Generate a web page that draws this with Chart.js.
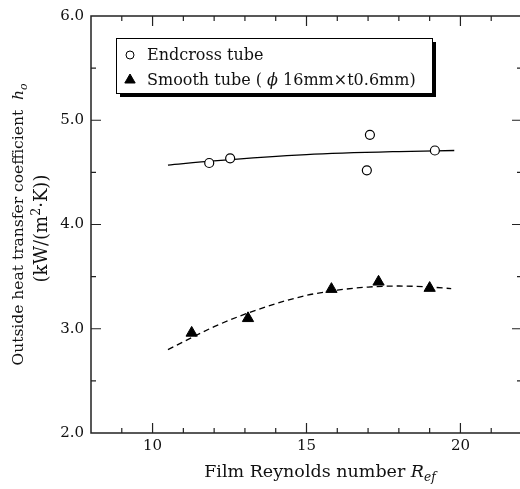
<!DOCTYPE html>
<html>
<head>
<meta charset="utf-8">
<script src="https://cdn.jsdelivr.net/npm/chart.js@4"></script>
<style>
  html, body { margin: 0; padding: 0; background: #fff; overflow: hidden; }
  #wrap { width: 524px; height: 489px; }
</style>
</head>
<body>
<div id="wrap"><canvas id="myChart" width="524" height="489"></canvas></div>
<script>
// measured points
const endX = [11.84, 12.52, 17.06, 16.96, 19.17];
const endY = [4.59, 4.635, 4.86, 4.52, 4.71];
const smoothX = [11.27, 13.1, 15.81, 17.34, 19.0];
const smoothY = [2.96, 3.10, 3.38, 3.45, 3.39];

// fitted curves
const endFitX = [10.5, 12, 15, 18, 19.8];
const endFitY = [4.57, 4.61, 4.67, 4.70, 4.71];
const smoothFitX = [10.5, 12, 13, 14, 15, 16, 17, 18, 19, 19.7];
const smoothFitY = [2.80, 3.02, 3.14, 3.24, 3.32, 3.37, 3.40, 3.41, 3.40, 3.385];

const xTicks = [10, 15, 20];
const yTicks = [2, 3, 4, 5, 6];

const FONT = "'DejaVu Serif', serif";
const toPts = (xs, ys) => xs.map((x, i) => ({ x: x, y: ys[i] }));

// draws text pieces: [text, italic, offset('sub'|'sup'|null)]
function drawPieces(ctx, pieces, size, x, y, align) {
  const widths = pieces.map(p => {
    const s = p[2] ? size * 0.7 : size;
    ctx.font = (p[1] ? 'italic ' : '') + s + 'px ' + FONT;
    return ctx.measureText(p[0]).width;
  });
  const total = widths.reduce((a, b) => a + b, 0);
  let cx = align === 'center' ? x - total / 2 : x;
  ctx.textBaseline = 'alphabetic';
  ctx.textAlign = 'left';
  pieces.forEach((p, i) => {
    const s = p[2] ? size * 0.7 : size;
    ctx.font = (p[1] ? 'italic ' : '') + s + 'px ' + FONT;
    let dy = 0;
    if (p[2] === 'sub') dy = size * 0.25;
    if (p[2] === 'sup') dy = -size * 0.4;
    ctx.fillText(p[0], cx, y + dy);
    cx += widths[i];
  });
}

// pin the plot's right edge (the right frame sits just off the picture)
const areaPlugin = {
  id: 'area',
  afterLayout(chart) {
    const s = chart.scales.x;
    s.right = 522;
    s.width = s.right - s.left;
    s.configure();
    chart.chartArea.right = 522;
    chart.chartArea.width = 522 - chart.chartArea.left;
  }
};

const framePlugin = {
  id: 'frame',
  afterDraw(chart) {
    const ctx = chart.ctx;
    const a = chart.chartArea;
    const xs = chart.scales.x, ys = chart.scales.y;
    ctx.save();
    ctx.strokeStyle = '#222';
    ctx.lineWidth = 1.5;
    ctx.strokeRect(a.left, a.top, a.right - a.left, a.bottom - a.top);

    ctx.lineWidth = 1.2;
    ctx.beginPath();
    for (let v = 9; v <= 21; v++) {
      const px = xs.getPixelForValue(v);
      const len = v % 5 === 0 ? 10 : 5;
      ctx.moveTo(px, a.bottom); ctx.lineTo(px, a.bottom - len);
      ctx.moveTo(px, a.top); ctx.lineTo(px, a.top + len);
    }
    for (let v = 2.5; v < 6; v += 0.5) {
      const py = ys.getPixelForValue(v);
      const len = Number.isInteger(v) ? 10 : 5;
      ctx.moveTo(a.left, py); ctx.lineTo(a.left + len, py);
      ctx.moveTo(a.right, py); ctx.lineTo(a.right - len, py);
    }
    ctx.stroke();

    // axis titles
    ctx.fillStyle = '#111';
    drawPieces(ctx, [['Film Reynolds number ', false], ['R', true], ['ef', true, 'sub']], 17.5, 320, 477, 'center');
    const cy = (a.top + a.bottom) / 2;
    ctx.translate(0, cy);
    ctx.rotate(-Math.PI / 2);
    drawPieces(ctx, [['Outside heat transfer coefficient  ', false], ['h', true], ['o', true, 'sub']], 15.5, 0, 23, 'center');
    drawPieces(ctx, [['(kW/(m', false], ['2', false, 'sup'], ['·K))', false]], 18, -4, 47, 'center');
    ctx.setTransform(1, 0, 0, 1, 0, 0);

    // legend box with shadow
    const bx = 116, by = 38, bw = 316, bh = 55;
    ctx.fillStyle = '#000';
    ctx.fillRect(bx + 4, by + 4, bw, bh);
    ctx.fillStyle = '#fff';
    ctx.fillRect(bx, by, bw, bh);
    ctx.strokeStyle = '#000';
    ctx.lineWidth = 1;
    ctx.strokeRect(bx + 0.5, by + 0.5, bw, bh);

    const ds = chart.data.datasets;
    Chart.helpers.drawPoint(ctx, { pointStyle: 'circle', radius: 4, borderWidth: 1.2 }, 130, 55);
    ctx.fillStyle = '#000';
    Chart.helpers.drawPoint(ctx, { pointStyle: 'triangle', radius: 6, borderWidth: 1 }, 130, 80);
    ctx.fillStyle = '#111';
    drawPieces(ctx, [[ds[0].label, false]], 16, 147, 60, 'left');
    drawPieces(ctx, [['Smooth tube ( ', false], ['ϕ', true], [' 16mm×t0.6mm)', false]], 16, 147, 85, 'left');
    ctx.restore();
  }
};

const ctx = document.getElementById('myChart');
const myChart = new Chart(ctx, {
  type: 'scatter',
  data: {
    datasets: [
      {
        label: 'Endcross tube',
        data: toPts(endX, endY),
        pointStyle: 'circle',
        pointRadius: 4.5,
        backgroundColor: '#fff',
        borderColor: '#000',
        borderWidth: 1.2
      },
      {
        label: 'Smooth tube',
        data: toPts(smoothX, smoothY),
        pointStyle: 'triangle',
        pointRadius: 6.5,
        backgroundColor: '#000',
        borderColor: '#000',
        borderWidth: 1
      },
      {
        label: 'Endcross fit',
        data: toPts(endFitX, endFitY),
        showLine: true,
        pointRadius: 0,
        borderColor: '#000',
        borderWidth: 1.3,
        cubicInterpolationMode: 'monotone'
      },
      {
        label: 'Smooth fit',
        data: toPts(smoothFitX, smoothFitY),
        showLine: true,
        pointRadius: 0,
        borderColor: '#000',
        borderWidth: 1.3,
        borderDash: [6, 4],
        cubicInterpolationMode: 'monotone'
      }
    ]
  },
  options: {
    responsive: false,
    animation: false,
    layout: { padding: { top: 15, right: 2, left: 0, bottom: 0 } },
    plugins: { legend: { display: false }, tooltip: { enabled: false } },
    scales: {
      x: {
        type: 'linear',
        min: 8,
        max: 22,
        afterBuildTicks: (s) => { s.ticks = xTicks.map(v => ({ value: v })); },
        afterFit: (s) => { s.height = 56; },
        grid: { display: false, drawTicks: false },
        border: { display: false },
        ticks: { color: '#111', padding: 4, font: { family: FONT, size: 15 } }
      },
      y: {
        min: 2,
        max: 6,
        afterBuildTicks: (s) => { s.ticks = yTicks.map(v => ({ value: v })); },
        afterFit: (s) => { s.width = 91; },
        grid: { display: false, drawTicks: false },
        border: { display: false },
        ticks: {
          color: '#111',
          padding: 7,
          font: { family: FONT, size: 15 },
          callback: (v) => Number(v).toFixed(1)
        }
      }
    }
  },
  plugins: [areaPlugin, framePlugin]
});
</script>
</body>
</html>
